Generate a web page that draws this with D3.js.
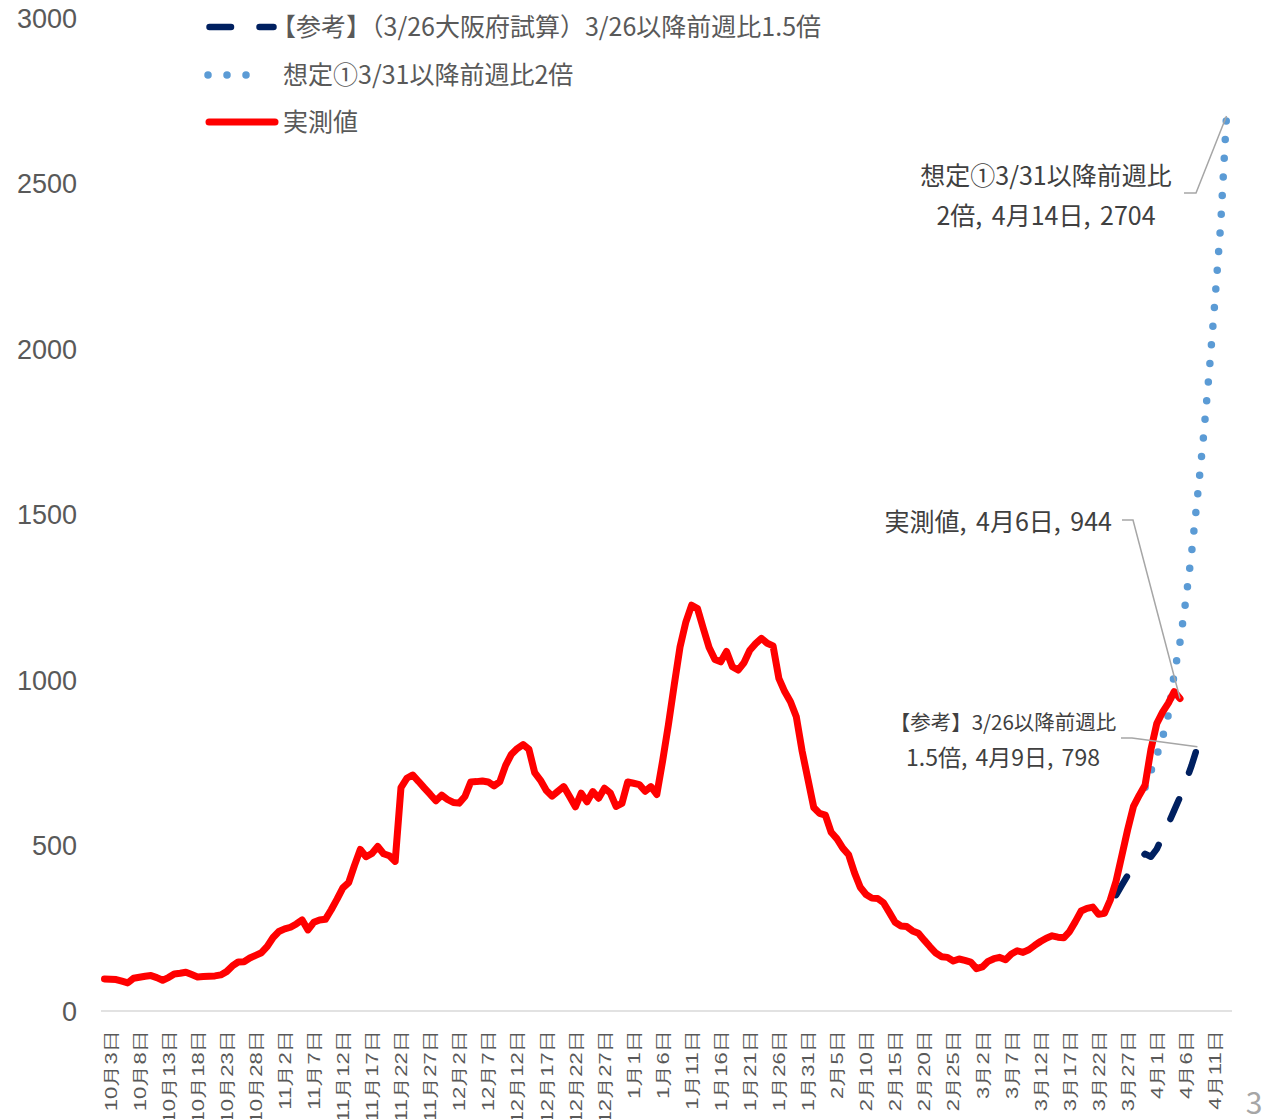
<!DOCTYPE html>
<html>
<head>
<meta charset="utf-8">
<script src="https://cdn.jsdelivr.net/npm/d3@7"></script>
<style>
  html, body { margin: 0; padding: 0; background: #ffffff; }
  svg { display: block; font-family: "Noto Sans CJK JP", "Noto Sans", sans-serif; }
</style>
</head>
<body>
<svg id="chart" width="1262" height="1119"></svg>
<script>
// Daily categories, 2020-10-03 .. 2021-04-14
const firstDay = new Date(2020, 9, 3);
const lastDay = new Date(2021, 3, 14);
const categories = d3.timeDay.range(firstDay, d3.timeDay.offset(lastDay, 1))
  .map(d => `${d.getMonth() + 1}月${d.getDate()}日`);

// Tick labels on the category axis (every 5th day)
const tickLabels = [
  "10月3日", "10月8日", "10月13日", "10月18日", "10月23日", "10月28日",
  "11月2日", "11月7日", "11月12日", "11月17日", "11月22日", "11月27日",
  "12月2日", "12月7日", "12月12日", "12月17日", "12月22日", "12月27日",
  "1月1日", "1月6日", "1月11日", "1月16日", "1月21日", "1月26日", "1月31日",
  "2月5日", "2月10日", "2月15日", "2月20日", "2月25日",
  "3月2日", "3月7日", "3月12日", "3月17日", "3月22日", "3月27日",
  "4月1日", "4月6日", "4月11日"
];
const yTicks = [0, 500, 1000, 1500, 2000, 2500, 3000];

// 実測値: 10月3日 .. 4月6日
const actualStart = "10月3日";
const actualValues = [
  97, 96, 95, 90, 85, 99, 102, 105, 107, 101,
  93, 101, 112, 114, 117, 110, 103, 104, 105, 106,
  109, 119, 136, 148, 149, 160, 168, 176, 195, 222,
  240, 248, 253, 263, 275, 245, 268, 275, 277, 306,
  338, 372, 388, 440, 488, 466, 476, 497, 475, 469,
  452, 675, 703, 713, 694, 674, 655, 635, 652, 639,
  630, 628, 648, 692, 693, 695, 692, 680, 693, 742,
  776, 793, 805, 791, 720, 697, 666, 649, 664, 678,
  648, 617, 658, 632, 663, 643, 673, 659, 618, 627,
  692, 688, 684, 664, 678, 654, 755, 865, 985, 1100,
  1175, 1226, 1216, 1156, 1098, 1062, 1055, 1086, 1040, 1030,
  1052, 1090, 1110, 1126, 1111, 1103, 1005, 965, 934, 889,
  785, 700, 615, 597, 592, 540, 520, 492, 472, 418,
  374, 352, 341, 340, 327, 298, 268, 257, 255, 242,
  235, 214, 194, 175, 164, 162, 151, 157, 153, 148,
  128, 133, 150, 158, 162, 155, 172, 182, 177, 185,
  198, 210, 220, 227, 223, 221, 240, 270, 302, 310,
  314, 292, 295, 335, 392, 470, 548, 618, 652, 683,
  790, 868, 903, 930, 965, 944
];

// 【参考】(3/26大阪府試算) 3/26以降前週比1.5倍: 3月26日 .. 4月9日
const referenceStart = "3月26日";
const referenceValues = [350, 380, 410, 435, 458, 475, 466, 489, 527, 566, 606, 646, 693, 742, 798];

// 想定① 3/31以降前週比2倍: 3月31日 .. 4月14日
const scenarioStart = "3月31日";
const scenarioValues = [676, 725, 771, 826, 895, 1018, 1114, 1241, 1385, 1552, 1727, 1925, 2144, 2376, 2704];

const seriesNames = [
  "【参考】（3/26大阪府試算）3/26以降前週比1.5倍",
  "想定①3/31以降前週比2倍",
  "実測値"
];

function toPoints(start, values) {
  const i0 = categories.indexOf(start);
  return values.map((v, k) => ({ cat: categories[i0 + k], v }));
}
const actual = toPoints(actualStart, actualValues);
const reference = toPoints(referenceStart, referenceValues);
const scenario = toPoints(scenarioStart, scenarioValues);

const svg = d3.select("#chart");

const x = d3.scalePoint().domain(categories).range([104.5, 1226.5]);
const y = d3.scaleLinear().domain([0, 3000]).range([1011, 18]);

// Y axis labels (no axis line, no gridlines)
const yAxis = svg.append("g")
  .attr("transform", "translate(77,0)")
  .call(d3.axisLeft(y).tickValues(yTicks).tickSize(0).tickPadding(0).tickFormat(d3.format("d")));
yAxis.select(".domain").remove();
yAxis.selectAll("text")
  .attr("fill", "#595959")
  .style("font-size", "27px")
  .attr("dy", "0.35em");

// Category axis
svg.append("line")
  .attr("x1", 101).attr("x2", 1232)
  .attr("y1", y(0)).attr("y2", y(0))
  .attr("stroke", "#d9d9d9").attr("stroke-width", 1.5);

const xAxis = svg.append("g")
  .attr("transform", `translate(0,${y(0)})`)
  .call(d3.axisBottom(x).tickValues(tickLabels).tickSize(0));
xAxis.select(".domain").remove();
xAxis.selectAll("text")
  .attr("x", 0).attr("y", 0).attr("dy", "0.35em")
  .attr("text-anchor", "end")
  .attr("fill", "#595959")
  .style("font-size", "22px")
  .attr("transform", "translate(5.5,19) rotate(-90) scale(1,0.78)");

const line = d3.line().x(d => x(d.cat)).y(d => y(d.v));

// Series, drawn in legend order so 実測値 sits on top
svg.append("path").datum(reference)
  .attr("d", line).attr("fill", "none")
  .attr("stroke", "#002060").attr("stroke-width", 6.5)
  .attr("stroke-linecap", "round").attr("stroke-linejoin", "round")
  .attr("stroke-dasharray", "21.5 28.5");

svg.append("path").datum(scenario)
  .attr("d", line).attr("fill", "none")
  .attr("stroke", "#5b9bd5").attr("stroke-width", 7.5)
  .attr("stroke-linecap", "round").attr("stroke-linejoin", "round")
  .attr("stroke-dasharray", "0 18.7");

svg.append("path").datum(actual)
  .attr("d", line).attr("fill", "none")
  .attr("stroke", "#ff0000").attr("stroke-width", 7)
  .attr("stroke-linecap", "round").attr("stroke-linejoin", "round");

// Legend
const legend = svg.append("g");
const legendRows = [
  { y: 27, stroke: "#002060", width: 6.5, dash: "21.5 28.5", x1: 209.5, x2: 273.5 },
  { y: 75, stroke: "#5b9bd5", width: 7.5, dash: "0 19", x1: 208, x2: 265 },
  { y: 122, stroke: "#ff0000", width: 7, dash: null, x1: 209, x2: 275 }
];
legendRows.forEach((r, k) => {
  legend.append("line")
    .attr("x1", r.x1).attr("x2", r.x2).attr("y1", r.y).attr("y2", r.y)
    .attr("stroke", r.stroke).attr("stroke-width", r.width)
    .attr("stroke-linecap", "round")
    .attr("stroke-dasharray", r.dash);
  legend.append("text")
    .attr("x", k === 0 ? 271 : 283).attr("y", r.y).attr("dy", "0.35em")
    .attr("fill", "#595959").style("font-size", "25px")
    .text(seriesNames[k]);
});

// Data labels with leader lines
const labelColor = "#404040";
const leaderColor = "#a6a6a6";

function leader(pts) {
  svg.append("polyline")
    .attr("points", pts.map(p => p.join(",")).join(" "))
    .attr("fill", "none").attr("stroke", leaderColor).attr("stroke-width", 1.5);
}
function labelLines(cx, cy, rows, anchor, gap) {
  const t = svg.append("text")
    .attr("fill", labelColor)
    .attr("text-anchor", anchor);
  rows.forEach((r, k) => {
    t.append("tspan")
      .attr("x", cx).attr("y", cy + k * gap).attr("dy", "0.35em")
      .style("font-size", r.size + "px")
      .style("word-spacing", (r.ws || 0) + "px")
      .text(r.text);
  });
}

const scenarioLast = scenario[scenario.length - 1];
labelLines(1046, 176, [
  { text: "想定①3/31以降前週比", size: 25 },
  { text: `2倍, ${scenarioLast.cat}, ${scenarioLast.v}`, size: 25, ws: 4 }
], "middle", 40);
leader([[1184, 193], [1196, 193], [x(scenarioLast.cat), y(scenarioLast.v)]]);

const actualLast = actual[actual.length - 1];
labelLines(1112, 522, [
  { text: `実測値, ${actualLast.cat}, ${actualLast.v}`, size: 25, ws: 4 }
], "end", 40);
leader([[1122, 520], [1133, 520], [x(actualLast.cat), y(actualLast.v)]]);

const referenceLast = reference[reference.length - 1];
labelLines(1003, 723, [
  { text: "【参考】3/26以降前週比", size: 20.5 },
  { text: `1.5倍, ${referenceLast.cat}, ${referenceLast.v}`, size: 23, ws: 3 }
], "middle", 35);
leader([[1121, 738], [1132, 738], [x(referenceLast.cat), y(referenceLast.v)]]);

// Page number
svg.append("text")
  .attr("x", 1254).attr("y", 1114).attr("text-anchor", "middle")
  .attr("fill", "#a6a6a6").style("font-size", "30px")
  .text("3");
</script>
</body>
</html>
